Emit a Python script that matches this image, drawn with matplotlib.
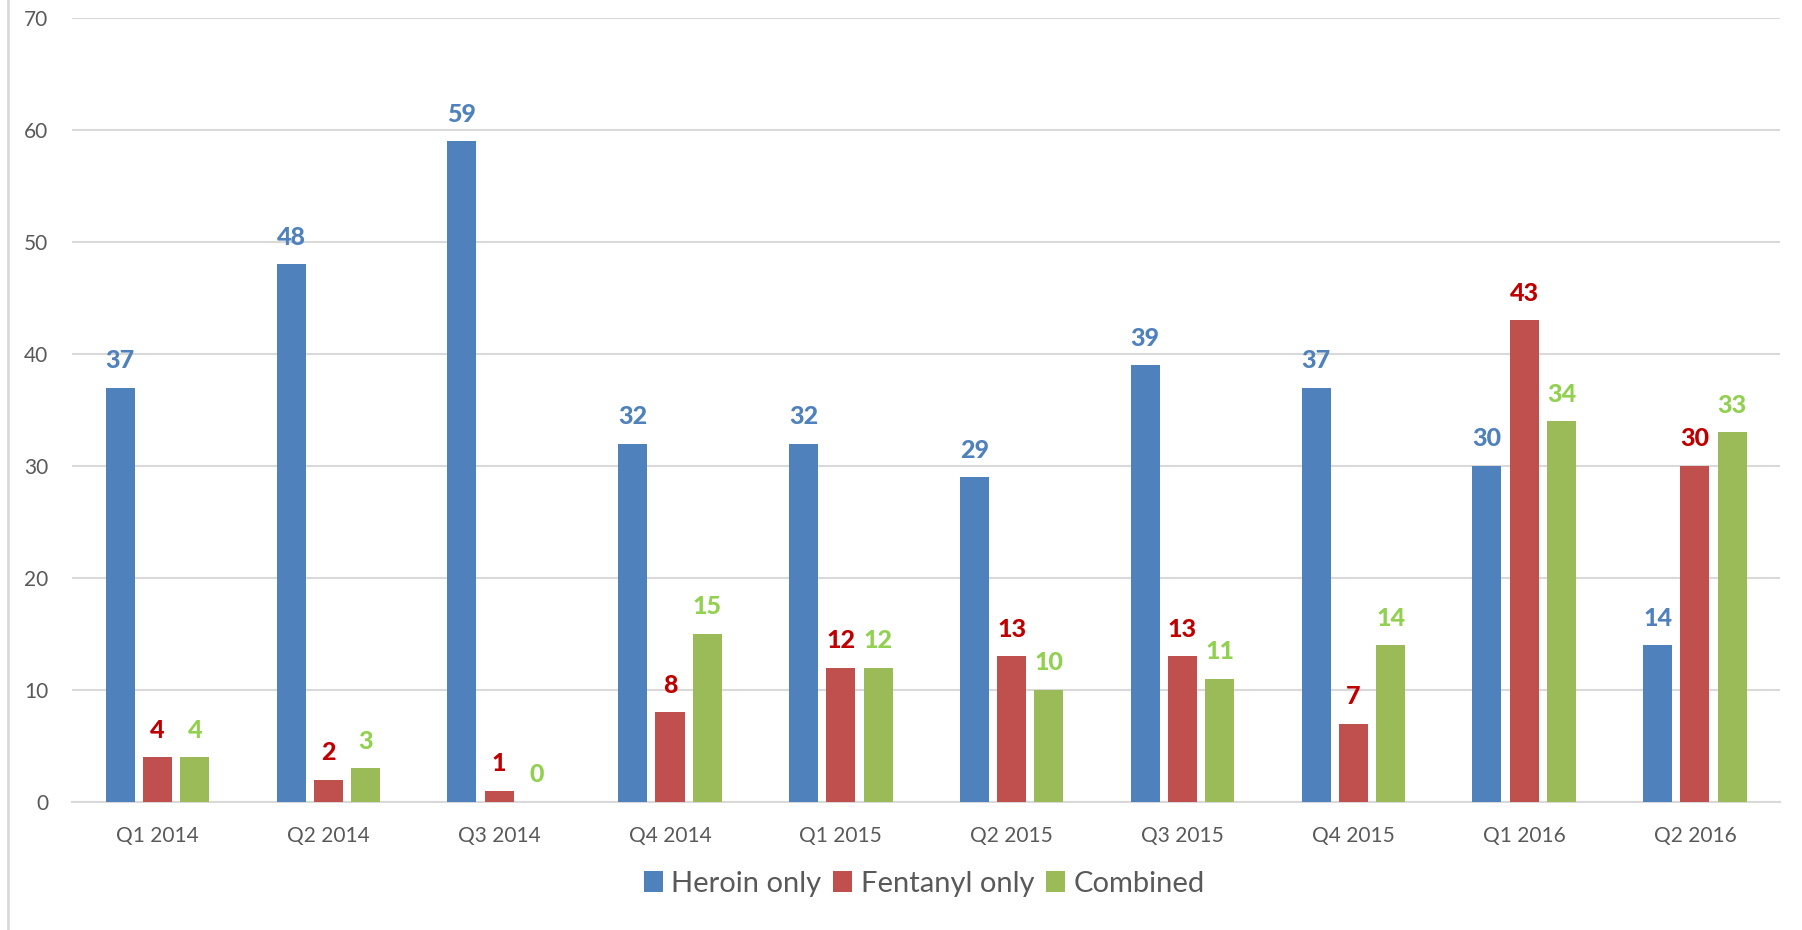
import numpy as np
import matplotlib
matplotlib.use("Agg")
import matplotlib.pyplot as plt
from matplotlib.lines import Line2D

plt.rcParams['font.family'] = ['Lato', 'DejaVu Sans']

quarters = ["Q1 2014", "Q2 2014", "Q3 2014", "Q4 2014", "Q1 2015",
            "Q2 2015", "Q3 2015", "Q4 2015", "Q1 2016", "Q2 2016"]
heroin = [37, 48, 59, 32, 32, 29, 39, 37, 30, 14]
fentanyl = [4, 2, 1, 8, 12, 13, 13, 7, 43, 30]
combined = [4, 3, 0, 15, 12, 10, 11, 14, 34, 33]

series_names = ["Heroin only", "Fentanyl only", "Combined"]
bar_colors = ["#4F81BD", "#C0504D", "#9BBB59"]
label_colors = ["#4F81BD", "#C00000", "#92D050"]

fig = plt.figure(figsize=(18.02, 9.30), dpi=100)
ax = fig.add_axes([0.040, 0.1376, 0.948, 0.843])

x = np.arange(len(quarters))
width = 0.17
step = 0.218
for i, (vals, name) in enumerate(zip([heroin, fentanyl, combined], series_names)):
    pos = x + (i - 1) * step
    ax.bar(pos, vals, width=width, color=bar_colors[i], label=name, zorder=3)
    for px, v in zip(pos, vals):
        ax.annotate(str(v), (px, v), xytext=(0, 19.5), textcoords="offset points",
                    ha="center", va="center", fontsize=18, fontweight="black",
                    color=label_colors[i])

ax.set_xlim(-0.5, len(quarters) - 0.5)
ax.set_ylim(0, 70)
ax.set_yticks(np.arange(0, 71, 10))
ax.set_xticks(x)
ax.set_xticklabels(quarters)
ax.grid(axis="y", color="#D9D9D9", linewidth=1.5, zorder=0)
ax.tick_params(axis="both", length=0, labelsize=15, colors="#595959")
ax.tick_params(axis="y", pad=17)
ax.tick_params(axis="x", pad=17)
for side in ["top", "right", "left"]:
    ax.spines[side].set_visible(False)
ax.spines["bottom"].set_color("#D9D9D9")
ax.spines["bottom"].set_linewidth(1.5)

leg = fig.legend(loc="center", bbox_to_anchor=(0.513, 0.050), ncol=3, frameon=False,
                 fontsize=21, handlelength=0.65, handleheight=0.75,
                 handletextpad=0.3, columnspacing=0.4)
for t in leg.get_texts():
    t.set_color("#595959")

fig.add_artist(Line2D([0.0044, 0.0044], [0, 1], transform=fig.transFigure,
                      color="#D9D9D9", linewidth=2))

fig.savefig("out.png", dpi=100)
